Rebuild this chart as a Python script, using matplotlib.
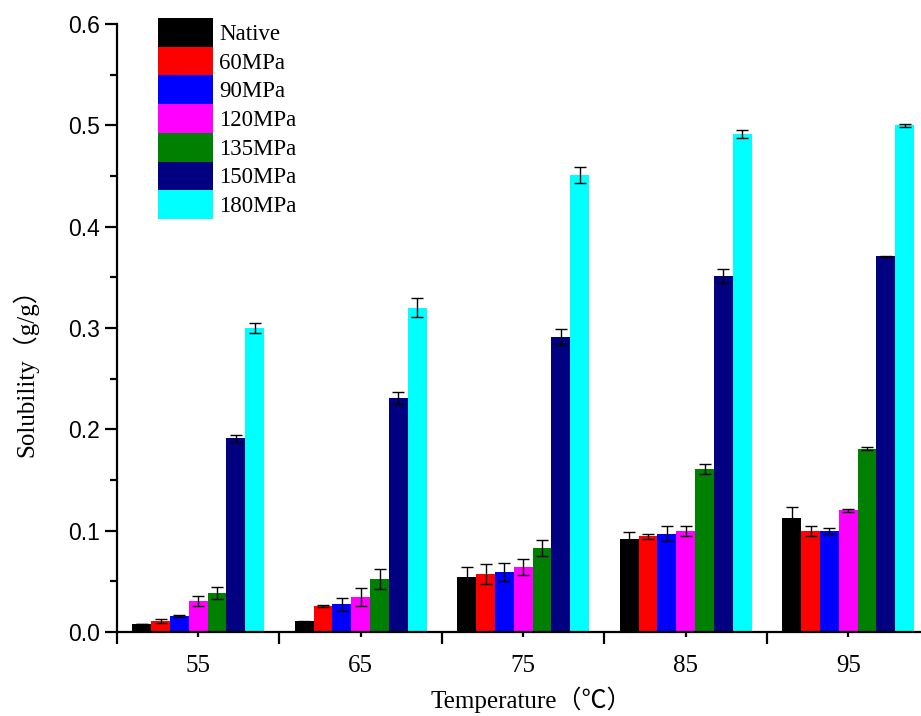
import matplotlib
matplotlib.use("Agg")
import matplotlib.pyplot as plt
import numpy as np

# temperatures (x categories)
temps = [55, 65, 75, 85, 95]
series = ["Native", "60MPa", "90MPa", "120MPa", "135MPa", "150MPa", "180MPa"]
colors = ["#000000", "#FF0000", "#0000FF", "#FF00FF", "#008000", "#000080", "#00FFFF"]

# solubility (g/g), one list per treatment, values at 55..95 C
native = [0.008, 0.0105, 0.0545, 0.092, 0.113]
mpa60 = [0.0105, 0.0255, 0.0575, 0.0945, 0.100]
mpa90 = [0.0155, 0.0275, 0.0595, 0.097, 0.100]
mpa120 = [0.0305, 0.0345, 0.064, 0.100, 0.120]
mpa135 = [0.0385, 0.052, 0.083, 0.161, 0.181]
mpa150 = [0.191, 0.231, 0.291, 0.351, 0.371]
mpa180 = [0.300, 0.320, 0.451, 0.491, 0.500]

# error bars (sd)
native_err = [0.0003, 0.0005, 0.0095, 0.0065, 0.010]
mpa60_err = [0.002, 0.0007, 0.010, 0.0027, 0.005]
mpa90_err = [0.001, 0.0063, 0.009, 0.0075, 0.003]
mpa120_err = [0.005, 0.009, 0.0078, 0.005, 0.0016]
mpa135_err = [0.0055, 0.010, 0.008, 0.0046, 0.0016]
mpa150_err = [0.0035, 0.006, 0.008, 0.007, 0.0005]
mpa180_err = [0.005, 0.0095, 0.0075, 0.004, 0.0015]

values = [native, mpa60, mpa90, mpa120, mpa135, mpa150, mpa180]
errors = [native_err, mpa60_err, mpa90_err, mpa120_err, mpa135_err, mpa150_err, mpa180_err]

serif = ["Liberation Serif", "Noto Sans CJK SC", "DejaVu Sans"]
sans = ["Liberation Sans", "DejaVu Sans"]

fig = plt.figure(figsize=(9.21, 7.16), dpi=100)
ax = fig.add_axes([0.127, 0.1173, 0.8822, 0.8492])

w = 1.16
x = np.array(temps, dtype=float)
for i, (name, vals, errs, c) in enumerate(zip(series, values, errors, colors)):
    xi = x + (i - 3) * w
    ax.bar(xi, vals, width=w, color=c, edgecolor="none", label=name, zorder=2)
    ax.errorbar(xi, vals, yerr=errs, fmt="none", ecolor="black", elinewidth=1.0,
                capsize=4.3, capthick=1.0, zorder=3)

ax.set_xlim(50, 100)
ax.set_ylim(0, 0.6)

# axes styling
for s in ["top", "right"]:
    ax.spines[s].set_visible(False)
ax.spines["left"].set_linewidth(1.6)
ax.spines["bottom"].set_linewidth(1.6)

ax.set_yticks(np.arange(0, 0.61, 0.1))
ax.set_yticks(np.arange(0.05, 0.6, 0.1), minor=True)
ax.set_yticklabels([f"{v:.1f}" for v in np.arange(0, 0.61, 0.1)], family=sans, fontsize=16.5)
ax.tick_params(axis="y", which="major", length=8.6, width=1.6, pad=3.5)
ax.tick_params(axis="y", which="minor", length=5, width=1.6)

ax.set_xticks(temps)
ax.set_xticklabels([str(t) for t in temps], family=serif, fontsize=18)
ax.set_xticks(np.arange(50, 101, 10), minor=True)
ax.tick_params(axis="x", which="major", length=3.5, width=1.6, pad=13)
ax.tick_params(axis="x", which="minor", length=8.6, width=1.6)

ax.set_xlabel("Temperature（℃）", family=serif, fontsize=18, va="center")
ax.xaxis.set_label_coords(0.51, -0.112)
ax.set_ylabel("Solubility（g/g）", family=serif, fontsize=18, va="center")
ax.yaxis.set_label_coords(-0.113, 0.436)

leg = ax.legend(loc="upper left", bbox_to_anchor=(158 / 921, 1 - 18 / 716),
                bbox_transform=fig.transFigure, frameon=False, borderpad=0,
                borderaxespad=0, handlelength=2.4, handleheight=1.55,
                labelspacing=0.0, handletextpad=0.27,
                prop={"family": serif, "size": 16.5})

fig.savefig("out.png", dpi=100)
